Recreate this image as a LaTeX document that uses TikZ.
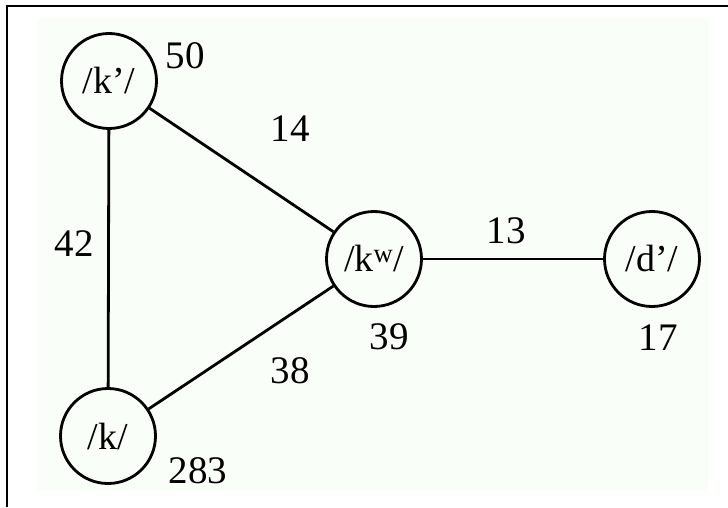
\documentclass[tikz,border=0pt]{standalone}
\usepackage{fontspec}
\setmainfont{Liberation Serif}
\definecolor{paper}{RGB}{250,254,248}
\tikzset{
  phoneme/.style={circle, draw, line width=2.8pt, minimum size=95pt, inner sep=0pt, font=\fontsize{38}{42}\selectfont},
  count/.style={font=\fontsize{39}{43}\selectfont, inner sep=0pt},
  link/.style={line width=2.8pt}
}
\begin{document}
\begin{tikzpicture}[x=1pt,y=1pt]
\useasboundingbox (0,0) rectangle (728,507);
\fill[paper] (37,16) rectangle (708,489);
\draw[line width=2.6pt] (7,0) -- (7,501) -- (728,501);
\node[phoneme] (kp) at (109,426){/k’/};
\node[phoneme] (kw) at (374,248){/k\textsuperscript{w}/};
\node[phoneme] (dp) at (652,248){/d’/};
\node[phoneme] (k) at (108,71){/k/};
\draw[link](kp) -- (kw);
\draw[link](kp) -- (k);
\draw[link](k) -- (kw);
\draw[link](kw) -- (dp);
\node[count] (nkp) at (185,451){50};
\node[count] (nkw) at (389,170){39};
\node[count] (ndp) at (658,169){17};
\node[count] (nk) at (198,36){283};
\node[count] (ekpkw) at (290,378){14};
\node[count] (ekpk) at (74,263){42};
\node[count] (ekkw) at (290,136){38};
\node[count] (ekwdp) at (506,276){13};

\end{tikzpicture}
\end{document}
